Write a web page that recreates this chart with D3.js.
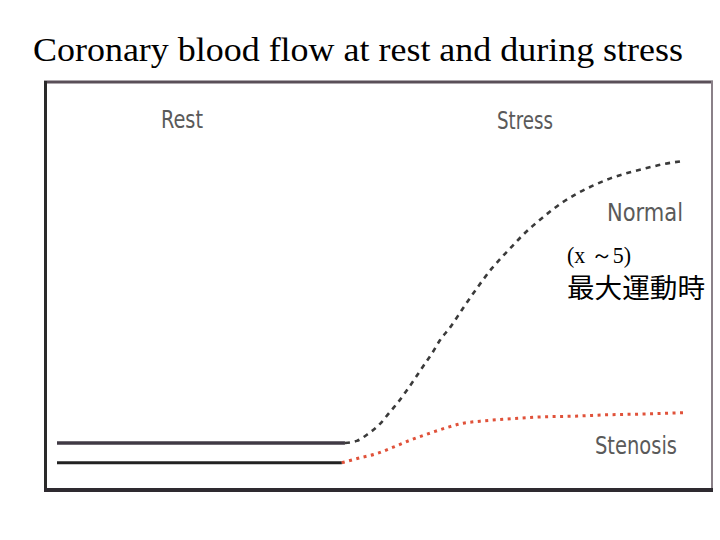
<!DOCTYPE html>
<html>
<head>
<meta charset="utf-8">
<script src="https://cdn.jsdelivr.net/npm/d3@7"></script>
<style>
  body { margin: 0; background: #fff; }
  svg { display: block; }
</style>
</head>
<body>
<svg id="chart" width="720" height="540"></svg>
<script>
// rest phase: flat flow, both vessels
var restTime = [0, 46];
var normalRest = [1.0, 1.0];
var stenosisRestTime = [0, 45.5];
var stenosisRest = [0.72, 0.72];

// stress phase
var normalTime = [46, 47.9, 49.7, 51.6, 53.0, 54.5, 55.9, 57.3, 58.5, 59.9, 61.2, 62.8, 64.1, 65.3, 66.8, 68.1, 69.5, 71.1, 72.7, 74.3, 76.0, 77.6, 80.7, 83.1, 85.6, 88.3, 91.1, 94.2, 97.1, 100];
var normalStress = [1.0, 1.03, 1.13, 1.27, 1.42, 1.58, 1.75, 1.93, 2.09, 2.27, 2.46, 2.64, 2.81, 2.97, 3.16, 3.32, 3.48, 3.64, 3.79, 3.94, 4.08, 4.2, 4.41, 4.54, 4.65, 4.75, 4.83, 4.9, 4.96, 5.0];

var stenosisTime = [45.5, 48.4, 51.1, 53.7, 56.7, 59.6, 62.3, 64.9, 67.6, 71.9, 77.2, 82.4, 87.9, 93.1, 100];
var stenosisStress = [0.72, 0.79, 0.85, 0.94, 1.05, 1.14, 1.22, 1.28, 1.31, 1.34, 1.37, 1.38, 1.4, 1.41, 1.43];

var phaseLabels = ["Rest", "Stress"];
var curveLabels = ["Normal", "Stenosis"];

var svg = d3.select("#chart");

var x = d3.scaleLinear().domain([0, 100]).range([57, 683]);
var y = d3.scaleLinear().domain([0, 5]).range([513.5, 161]);

// title
svg.append("text")
    .attr("x", 33)
    .attr("y", 61)
    .attr("font-family", "'Liberation Serif', 'Times New Roman', serif")
    .attr("font-size", 34)
    .attr("textLength", 650)
    .attr("lengthAdjust", "spacingAndGlyphs")
    .attr("fill", "#000")
    .text("Coronary blood flow at rest and during stress");

// frame from the scanned figure
var frame = svg.append("g");
frame.append("line").attr("x1", 44).attr("y1", 82).attr("x2", 713).attr("y2", 82)
    .attr("stroke", "#5a4f58").attr("stroke-width", 3);
frame.append("line").attr("x1", 45.5).attr("y1", 81).attr("x2", 45.5).attr("y2", 492)
    .attr("stroke", "#2a2a2a").attr("stroke-width", 3);
frame.append("line").attr("x1", 712).attr("y1", 81).attr("x2", 712).attr("y2", 492)
    .attr("stroke", "#8a8088").attr("stroke-width", 2);
frame.append("line").attr("x1", 44).attr("y1", 490).attr("x2", 713).attr("y2", 490)
    .attr("stroke", "#2e2a30").attr("stroke-width", 4);

var line = d3.line()
    .x(d => x(d[0]))
    .y(d => y(d[1]))
    .curve(d3.curveMonotoneX);

var zip = (a, b) => a.map((t, i) => [t, b[i]]);

// rest lines, solid
svg.append("path")
    .attr("d", line(zip(restTime, normalRest)))
    .attr("fill", "none").attr("stroke", "#403a44").attr("stroke-width", 3.5);
svg.append("path")
    .attr("d", line(zip(stenosisRestTime, stenosisRest)))
    .attr("fill", "none").attr("stroke", "#222").attr("stroke-width", 3);

// stress curves
svg.append("path")
    .attr("d", line(zip(normalTime, normalStress)))
    .attr("fill", "none")
    .attr("stroke", "#3a3a3a")
    .attr("stroke-width", 2.6)
    .attr("stroke-dasharray", "5,5");
svg.append("path")
    .attr("d", line(zip(stenosisTime, stenosisStress)))
    .attr("fill", "none")
    .attr("stroke", "#e0523a")
    .attr("stroke-width", 3)
    .attr("stroke-dasharray", "3,4.5");

// phase and curve labels
var labelFont = "'Liberation Sans Narrow', 'DejaVu Sans Condensed', 'Liberation Sans', sans-serif";
var labelPos = [
    { t: phaseLabels[0], x: 161, y: 128, w: 42 },
    { t: phaseLabels[1], x: 497, y: 129, w: 56 },
    { t: curveLabels[0], x: 607, y: 221, w: 76 },
    { t: curveLabels[1], x: 595, y: 454, w: 82 }
];
svg.append("g").selectAll("text")
    .data(labelPos)
    .join("text")
    .attr("x", d => d.x)
    .attr("y", d => d.y)
    .attr("font-family", labelFont)
    .attr("font-size", 24)
    .attr("textLength", d => d.w)
    .attr("lengthAdjust", "spacingAndGlyphs")
    .attr("fill", "#5a5a5a")
    .text(d => d.t);

// annotation
svg.append("text")
    .attr("x", 567)
    .attr("y", 263)
    .attr("font-family", "'Liberation Serif', 'Times New Roman', serif")
    .attr("font-size", 24)
    .attr("textLength", 64)
    .attr("lengthAdjust", "spacingAndGlyphs")
    .text("(x ～5)");

svg.append("text")
    .attr("x", 567)
    .attr("y", 298)
    .attr("font-family", "'Noto Sans CJK JP', 'Noto Sans CJK SC', sans-serif")
    .attr("font-size", 27)
    .attr("textLength", 138)
    .attr("lengthAdjust", "spacingAndGlyphs")
    .text("最大運動時");
</script>
</body>
</html>
